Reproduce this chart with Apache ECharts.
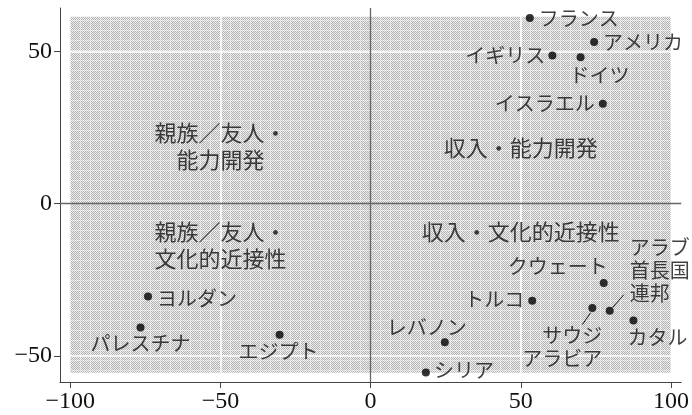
<!DOCTYPE html>
<html>
<head>
<meta charset="utf-8">
<script src="https://cdn.jsdelivr.net/npm/echarts@6/dist/echarts.min.js"></script>
<style>
html,body{margin:0;padding:0;background:#fff;}
#chart{width:692px;height:415px;}
</style>
</head>
<body>
<div id="chart"></div>
<script>
// ---- data ----
const countries = ['フランス','アメリカ','イギリス','ドイツ','イスラエル','クウェート','トルコ','サウジ\nアラビア','アラブ\n首長国\n連邦','カタル','レバノン','シリア','ヨルダン','パレスチナ','エジプト'];
const xValues = [53.0, 74.4, 60.5, 69.9, 77.3, 77.6, 53.8, 73.8, 79.6, 87.5, 24.7, 18.4, -74.1, -76.6, -30.3];
const yValues = [61.0, 53.1, 48.7, 48.1, 32.8, -26.1, -31.9, -34.3, -35.2, -38.4, -45.5, -55.5, -30.5, -40.7, -43.1];

const quadrantTexts = ['親族／友人・\n能力開発', '収入・能力開発', '親族／友人・\n文化的近接性', '収入・文化的近接性'];
const quadrantX = [-50, 50, -50, 50];
const quadrantY = [19.0, 18.3, -13.5, -9.3];

const tickValues = [-100, -50, 0, 50, 100];
const yTickValues = [-50, 0, 50];
const panelX = [-100, 100];
const panelY = [-55.6, 61.4];
const gridValues = [-50, 50];

// ---- label styles (pixel offsets from each dot) ----
const labelStyle = [
  {align:'left',   dx: 9,  dy: 0},   // フランス
  {align:'left',   dx: 9,  dy: 0},   // アメリカ
  {align:'right',  dx:-7,  dy: 0},   // イギリス
  {align:'center', dx:19,  dy: 18},  // ドイツ
  {align:'right',  dx:-8,  dy: 0},   // イスラエル
  {align:'center', dx:-46, dy:-17},  // クウェート
  {align:'right',  dx:-8,  dy:-1},   // トルコ
  {align:'right',  dx:10,  dy: 39},  // サウジアラビア
  {align:'left',   dx:20,  dy:-40},  // アラブ首長国連邦
  {align:'left',   dx:-6,  dy: 17},  // カタル
  {align:'center', dx:-18, dy:-15},  // レバノン
  {align:'left',   dx: 8,  dy:-2},   // シリア
  {align:'left',   dx: 9,  dy: 2},   // ヨルダン
  {align:'center', dx: 0,  dy: 16},  // パレスチナ
  {align:'center', dx:-1,  dy: 17}   // エジプト
];
// leader lines: index of country, start/end pixel offsets from dot
const leaders = [
  {i:7, from:[-1.6, 4.6], to:[-10, 16.6]},
  {i:8, from:[3, -3.4], to:[14, -16]}
];

// ---- stipple pattern ----
function makePattern(){
  const c = document.createElement('canvas');
  c.width = 10; c.height = 10;
  const ctx = c.getContext('2d');
  for (let y = 0; y < 10; y++) {
    for (let x = 0; x < 10; x++) {
      let dark = (x + y) % 2 === 0;
      let col;
      if (x === 0 || y === 0) col = dark ? '#d4d4d4' : '#f4f4f4';
      else col = dark ? '#b2b2b2' : '#eeeeee';
      ctx.fillStyle = col;
      ctx.fillRect(x, y, 1, 1);
    }
  }
  return {image: c, repeat: 'repeat'};
}
const pattern = makePattern();

const jpFont = '"Noto Sans CJK JP", "Noto Sans", sans-serif';
const numFont = '"Liberation Serif", "DejaVu Serif", serif';

const chart = echarts.init(document.getElementById('chart'), null, {renderer: 'canvas'});

const scatterData = countries.map((name, k) => ({
  name: name,
  value: [xValues[k], yValues[k]],
  label: {
    show: true,
    position: 'inside',
    align: labelStyle[k].align,
    verticalAlign: 'middle',
    offset: [labelStyle[k].dx, labelStyle[k].dy],
    formatter: name,
    fontFamily: jpFont,
    fontSize: 20,
    lineHeight: 23,
    color: '#111'
  }
}));

const fmt = v => (v < 0 ? '\u2212' + Math.abs(v) : String(v));

const option = {
  animation: false,
  backgroundColor: '#fff',
  grid: {left: 60, right: 9.5, top: 8, bottom: 33, containLabel: false},
  xAxis: {
    type: 'value', min: -103.4, max: 103.4,
    axisLine: {show: true, onZero: false, lineStyle: {color: '#444', width: 1}},
    axisTick: {show: true, length: 6, lineStyle: {color: '#444'}, customValues: tickValues},
    axisLabel: {customValues: tickValues, formatter: fmt, fontFamily: numFont, fontSize: 24, color: '#111', margin: 8},
    splitLine: {show: false}
  },
  yAxis: {
    type: 'value', min: -58.6, max: 64.3,
    axisLine: {show: true, onZero: false, lineStyle: {color: '#444', width: 1}},
    axisTick: {show: true, length: 6, lineStyle: {color: '#444'}, customValues: yTickValues},
    axisLabel: {customValues: yTickValues, formatter: fmt, fontFamily: numFont, fontSize: 24, color: '#111', margin: 8},
    splitLine: {show: false}
  },
  series: [
    {
      type: 'custom',
      z: 1,
      silent: true,
      data: [[panelX[0], panelY[0], panelX[1], panelY[1]]],
      renderItem: function (params, api) {
        const p1 = api.coord([api.value(0), api.value(3)]);
        const p2 = api.coord([api.value(2), api.value(1)]);
        return {type: 'rect', shape: {x: p1[0], y: p1[1], width: p2[0] - p1[0], height: p2[1] - p1[1]}, style: {fill: pattern}};
      },
      markLine: {
        silent: true, symbol: 'none', label: {show: false}, z: 2,
        lineStyle: {color: '#ffffff', width: 1.5, type: 'solid'},
        data: gridValues.map(v => [{coord: [v, panelY[0]]}, {coord: [v, panelY[1]]}])
          .concat(gridValues.map(v => [{coord: [panelX[0], v]}, {coord: [panelX[1], v]}]))
      }
    },
    {
      type: 'scatter',
      z: 3,
      silent: true,
      symbolSize: 0,
      data: [],
      markLine: {
        silent: true, symbol: 'none', label: {show: false},
        lineStyle: {color: '#666', width: 1.3, type: 'solid'},
        data: [{xAxis: 0}, {yAxis: 0}]
      }
    },
    {
      type: 'custom',
      z: 4,
      silent: true,
      data: leaders.map(l => [xValues[l.i], yValues[l.i], l.from[0], l.from[1], l.to[0], l.to[1]]),
      renderItem: function (params, api) {
        const p = api.coord([api.value(0), api.value(1)]);
        return {type: 'line', shape: {x1: p[0] + api.value(2), y1: p[1] + api.value(3), x2: p[0] + api.value(4), y2: p[1] + api.value(5)}, style: {stroke: '#111', lineWidth: 1}};
      }
    },
    {
      type: 'scatter',
      z: 5,
      silent: true,
      symbol: 'circle',
      symbolSize: 8,
      itemStyle: {color: '#000'},
      data: scatterData
    },
    {
      type: 'scatter',
      z: 5,
      silent: true,
      symbolSize: 0,
      data: quadrantTexts.map((t, k) => ({
        value: [quadrantX[k], quadrantY[k]],
        label: {show: true, position: 'inside', formatter: t, align: 'center', verticalAlign: 'middle',
                fontFamily: jpFont, fontSize: 22, lineHeight: 27, color: '#111'}
      }))
    }
  ]
};
chart.setOption(option);
</script>
</body>
</html>
